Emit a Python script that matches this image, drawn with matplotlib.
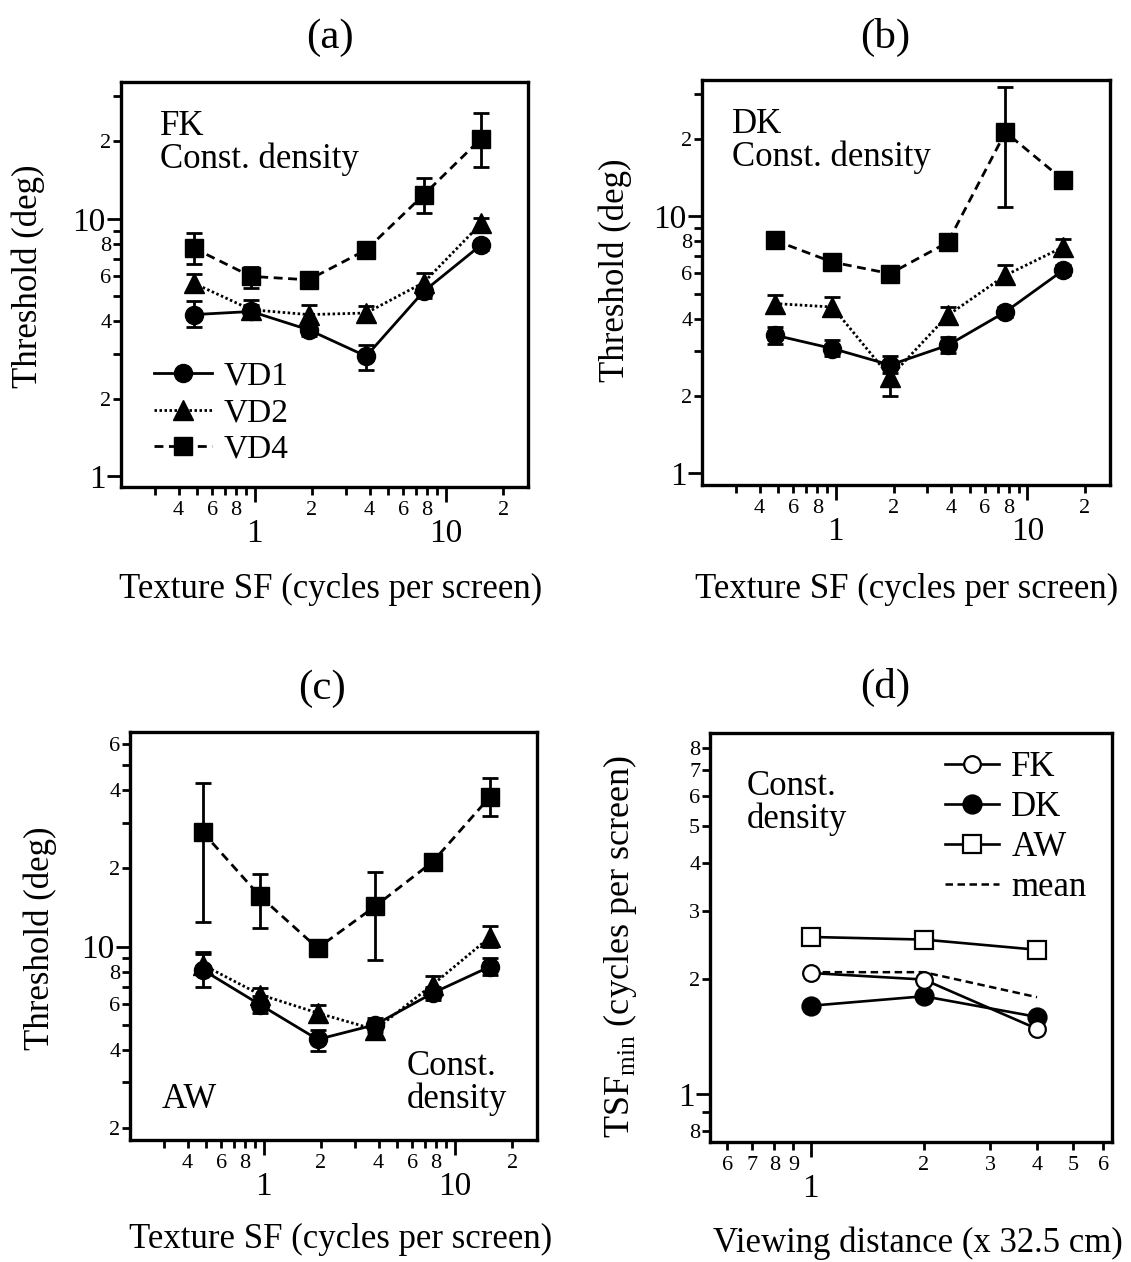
import matplotlib.pyplot as plt
from matplotlib.lines import Line2D
from matplotlib.ticker import FixedLocator, FixedFormatter

plt.rcParams['font.family'] = ['Liberation Serif', 'DejaVu Serif']
plt.rcParams['mathtext.fontset'] = 'custom'
plt.rcParams['mathtext.rm'] = 'Liberation Serif'

# texture spatial frequency (cycles per screen)
sf = [0.48, 0.96, 1.92, 3.84, 7.68, 15.36]

# FK, constant density: threshold (deg), with error bar ends
fk_vd1 = [4.25, 4.37, 3.71, 2.93, 5.23, 7.93]
fk_vd1_lo = [3.82, 4.10, 3.50, 2.60, 4.95, 7.60]
fk_vd1_hi = [4.78, 4.65, 3.95, 3.25, 5.50, 8.20]
fk_vd2 = [5.63, 4.44, 4.25, 4.31, 5.66, 9.60]
fk_vd2_lo = [5.20, 4.20, 3.90, 4.05, 5.25, 9.10]
fk_vd2_hi = [6.10, 4.85, 4.65, 4.60, 6.15, 10.1]
fk_vd4 = [7.70, 5.98, 5.80, 7.58, 12.4, 20.5]
fk_vd4_lo = [6.70, 5.40, 5.50, 7.30, 10.5, 15.9]
fk_vd4_hi = [8.80, 6.50, 6.10, 7.90, 14.4, 25.7]

# DK
dk_vd1 = [3.45, 3.06, 2.64, 3.15, 4.25, 6.17]
dk_vd1_lo = [3.20, 2.85, 2.45, 2.95, 4.05, 5.90]
dk_vd1_hi = [3.70, 3.30, 2.85, 3.40, 4.45, 6.45]
dk_vd2 = [4.58, 4.44, 2.37, 4.12, 5.90, 7.60]
dk_vd2_lo = [4.30, 4.10, 2.00, 3.80, 5.50, 7.20]
dk_vd2_hi = [4.94, 4.85, 2.70, 4.44, 6.45, 8.20]
dk_vd4 = [8.07, 6.64, 5.99, 7.93, 21.3, 13.9]
dk_vd4_lo = [7.60, 6.30, 5.70, 7.50, 10.9, 13.3]
dk_vd4_hi = [8.60, 7.00, 6.30, 8.40, 31.8, 14.5]

# AW
aw_vd1 = [8.14, 5.97, 4.39, 5.00, 6.62, 8.38]
aw_vd1_lo = [7.00, 5.55, 3.96, 4.70, 6.20, 7.80]
aw_vd1_hi = [9.40, 6.45, 4.79, 5.30, 7.00, 9.00]
aw_vd2 = [8.51, 6.53, 5.55, 4.79, 7.13, 10.9]
aw_vd2_lo = [8.00, 6.10, 5.20, 4.40, 6.60, 10.0]
aw_vd2_hi = [9.56, 6.90, 5.97, 5.10, 7.67, 12.0]
aw_vd4 = [27.6, 15.6, 9.86, 14.3, 21.2, 37.8]
aw_vd4_lo = [12.4, 11.8, 9.40, 8.90, 20.2, 31.8]
aw_vd4_hi = [42.7, 19.1, 10.3, 19.4, 22.3, 44.7]

# TSF minimum vs viewing distance
view_dist = [1, 2, 4]
tsf_fk = [2.07, 1.99, 1.48]
tsf_dk = [1.70, 1.80, 1.59]
tsf_aw = [2.57, 2.53, 2.38]
tsf_mean = [2.08, 2.08, 1.79]

W, H = 1131, 1262
fig = plt.figure(figsize=(W / 100, H / 100), dpi=100)


def add_axes_px(left, top, right, bottom):
    return fig.add_axes([left / W, 1 - bottom / H, (right - left) / W, (bottom - top) / H])


def log_ticks(axis, major, major_labels, minor, minor_labels):
    axis.set_major_locator(FixedLocator(major))
    axis.set_major_formatter(FixedFormatter(major_labels))
    axis.set_minor_locator(FixedLocator(minor))
    axis.set_minor_formatter(FixedFormatter(minor_labels))


def style_axes(ax):
    for s in ax.spines.values():
        s.set_linewidth(2.4)
    ax.tick_params(which='both', direction='out', width=2, top=False, right=False)
    ax.tick_params(axis='y', which='major', length=10, labelsize=24, pad=1)
    ax.tick_params(axis='y', which='minor', length=6, labelsize=16, pad=1)
    ax.tick_params(axis='x', which='major', length=11, labelsize=24, pad=12)
    ax.tick_params(axis='x', which='minor', length=6, labelsize=16, pad=4)


sf_minor = [0.3, 0.4, 0.5, 0.6, 0.7, 0.8, 0.9, 2, 3, 4, 5, 6, 7, 8, 9, 20]
sf_minor_lab = ['', '4', '', '6', '', '8', '', '2', '', '4', '', '6', '', '8', '', '2']

LABEL_SIZE = 25
NOTE_SIZE = 25
TITLE_SIZE = 31


def threshold_panel(ax, d1, d1lo, d1hi, d2, d2lo, d2hi, d4, d4lo, d4hi):
    ax.set_xscale('log')
    ax.set_yscale('log')
    ebkw = dict(color='k', lw=2, elinewidth=2, capsize=6, capthick=2, mec='k')
    ax.errorbar(sf, d4, yerr=[[v - l for v, l in zip(d4, d4lo)], [h - v for v, h in zip(d4, d4hi)]],
                ls=(0, (3.2, 2.0)), marker='s', ms=13, **ebkw)
    ax.errorbar(sf, d2, yerr=[[v - l for v, l in zip(d2, d2lo)], [h - v for v, h in zip(d2, d2hi)]],
                ls=(0, (0.9, 0.9)), marker='^', ms=14, **ebkw)
    ax.errorbar(sf, d1, yerr=[[v - l for v, l in zip(d1, d1lo)], [h - v for v, h in zip(d1, d1hi)]],
                ls='-', marker='o', ms=13, **ebkw)
    ax.set_xlim(0.2, 27)
    log_ticks(ax.xaxis, [1, 10], ['1', '10'], sf_minor, sf_minor_lab)
    ax.set_xlabel('Texture SF (cycles per screen)', fontsize=LABEL_SIZE, va='center')
    ax.set_ylabel('Threshold (deg)', fontsize=LABEL_SIZE, va='center')
    style_axes(ax)


# (a) FK
ax_a = add_axes_px(121, 82, 528, 487)
threshold_panel(ax_a, fk_vd1, fk_vd1_lo, fk_vd1_hi, fk_vd2, fk_vd2_lo, fk_vd2_hi,
                fk_vd4, fk_vd4_lo, fk_vd4_hi)
ax_a.set_ylim(0.91, 34)
log_ticks(ax_a.yaxis, [1, 10], ['1', '10'],
          [2, 3, 4, 5, 6, 7, 8, 9, 20, 30], ['2', '', '4', '', '6', '', '8', '', '2', ''])
ax_a.text(0.096, 0.93, 'FK\nConst. density', transform=ax_a.transAxes, fontsize=NOTE_SIZE,
          va='top', ha='left', linespacing=0.98)
handles = [Line2D([], [], color='k', lw=2, ls='-', marker='o', ms=13),
           Line2D([], [], color='k', lw=2, ls=(0, (0.9, 0.9)), marker='^', ms=14),
           Line2D([], [], color='k', lw=2, ls=(0, (3.2, 2.0)), marker='s', ms=13)]
ax_a.legend(handles, ['VD1', 'VD2', 'VD4'], loc='upper left', bbox_to_anchor=(0.08, 0.31),
            frameon=False, fontsize=24, handlelength=1.75, handletextpad=0.35,
            labelspacing=0.18, borderpad=0, borderaxespad=0)
ax_a.xaxis.set_label_coords(0.516, -0.254)
ax_a.yaxis.set_label_coords(-0.229, 0.521)
ax_a.text(0.513, 1.109, '(a)', transform=ax_a.transAxes, fontsize=TITLE_SIZE, ha='center', va='center')

# (b) DK
ax_b = add_axes_px(702, 80, 1110, 485)
threshold_panel(ax_b, dk_vd1, dk_vd1_lo, dk_vd1_hi, dk_vd2, dk_vd2_lo, dk_vd2_hi,
                dk_vd4, dk_vd4_lo, dk_vd4_hi)
ax_b.set_ylim(0.9, 34)
log_ticks(ax_b.yaxis, [1, 10], ['1', '10'],
          [2, 3, 4, 5, 6, 7, 8, 9, 20, 30], ['2', '', '4', '', '6', '', '8', '', '2', ''])
ax_b.text(0.073, 0.93, 'DK\nConst. density', transform=ax_b.transAxes, fontsize=NOTE_SIZE,
          va='top', ha='left', linespacing=0.98)
ax_b.xaxis.set_label_coords(0.502, -0.259)
ax_b.yaxis.set_label_coords(-0.213, 0.53)
ax_b.text(0.449, 1.104, '(b)', transform=ax_b.transAxes, fontsize=TITLE_SIZE, ha='center', va='center')

# (c) AW
ax_c = add_axes_px(130, 732, 537, 1140)
threshold_panel(ax_c, aw_vd1, aw_vd1_lo, aw_vd1_hi, aw_vd2, aw_vd2_lo, aw_vd2_hi,
                aw_vd4, aw_vd4_lo, aw_vd4_hi)
ax_c.set_ylim(1.8, 67)
log_ticks(ax_c.yaxis, [10], ['10'],
          [2, 3, 4, 5, 6, 7, 8, 9, 20, 30, 40, 50, 60],
          ['2', '', '4', '', '6', '', '8', '', '2', '', '4', '', '6'])
ax_c.text(0.078, 0.078, 'AW', transform=ax_c.transAxes, fontsize=NOTE_SIZE, va='baseline', ha='left')
ax_c.text(0.68, 0.22, 'Const.\ndensity', transform=ax_c.transAxes, fontsize=NOTE_SIZE,
          va='top', ha='left', linespacing=0.98)
ax_c.xaxis.set_label_coords(0.518, -0.245)
ax_c.yaxis.set_label_coords(-0.221, 0.495)
ax_c.text(0.472, 1.107, '(c)', transform=ax_c.transAxes, fontsize=TITLE_SIZE, ha='center', va='center')

# (d) TSF minimum vs viewing distance
ax_d = add_axes_px(710, 733, 1112, 1142)
ax_d.set_xscale('log')
ax_d.set_yscale('log')
ax_d.plot(view_dist, tsf_mean, color='k', lw=1.8, ls=(0, (3.0, 1.8)), label='mean', zorder=2)
ax_d.plot(view_dist, tsf_aw, color='k', lw=1.9, marker='s', ms=13, mfc='white', mew=1.6, label='AW')
ax_d.plot(view_dist, tsf_dk, color='k', lw=1.9, marker='o', ms=13, mfc='k', mew=1.6, label='DK')
ax_d.plot(view_dist, tsf_fk, color='k', lw=1.9, marker='o', ms=12, mfc='white', mew=1.6, label='FK')
ax_d.set_xlim(0.54, 6.33)
ax_d.set_ylim(0.75, 8.75)
log_ticks(ax_d.xaxis, [1], ['1'], [0.6, 0.7, 0.8, 0.9, 2, 3, 4, 5, 6],
          ['6', '7', '8', '9', '2', '3', '4', '5', '6'])
log_ticks(ax_d.yaxis, [1], ['1'], [0.8, 0.9, 2, 3, 4, 5, 6, 7, 8],
          ['8', '', '2', '3', '4', '5', '6', '7', '8'])
style_axes(ax_d)
hd, ld = ax_d.get_legend_handles_labels()
order = [3, 2, 1, 0]
ax_d.legend([hd[i] for i in order], [ld[i] for i in order], loc='upper left',
            bbox_to_anchor=(0.585, 0.955), frameon=False, fontsize=NOTE_SIZE, handlelength=1.55,
            handletextpad=0.35, labelspacing=0.2, borderpad=0, borderaxespad=0)
ax_d.text(0.091, 0.91, 'Const.\ndensity', transform=ax_d.transAxes, fontsize=NOTE_SIZE,
          va='top', ha='left', linespacing=0.98)
ax_d.set_xlabel('Viewing distance (x 32.5 cm)', fontsize=LABEL_SIZE, va='center')
ax_d.set_ylabel('TSF$_{\\mathrm{min}}$ (cycles per screen)', fontsize=26, va='center')
ax_d.xaxis.set_label_coords(0.518, -0.248)
ax_d.yaxis.set_label_coords(-0.224, 0.477)
ax_d.text(0.436, 1.111, '(d)', transform=ax_d.transAxes, fontsize=TITLE_SIZE, ha='center', va='center')

plt.savefig('out.png', dpi=100)
